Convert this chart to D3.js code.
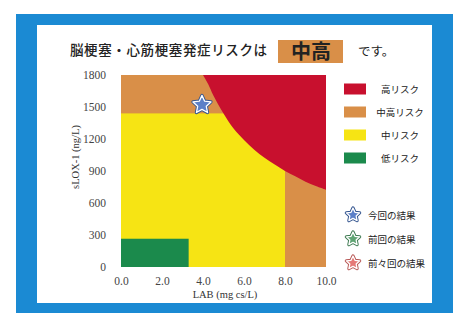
<!DOCTYPE html>
<html><head><meta charset="utf-8">
<script src="https://cdn.jsdelivr.net/npm/d3@7"></script>
<style>
html,body{margin:0;padding:0;background:#fff;}
svg{display:block;}
</style></head>
<body>
<script>
// ---- data ----
const xTicks = [0, 2, 4, 6, 8, 10];
const yTicks = [0, 300, 600, 900, 1200, 1500, 1800];
const xDomain = [0, 10];
const yDomain = [0, 1800];
const riskLabels = ["高リスク", "中高リスク", "中リスク", "低リスク"];
const riskColors = ["#c8102e", "#d98f48", "#f6e414", "#1b8a4c"];
// zone rectangles [x0, x1, y0, y1] in data units
const midHighZone = [0, 10, 0, 1800];
const midZone = [0, 8, 0, 1440];
const lowZone = [0, 3.3, 0, 265];
// high risk boundary [LAB, sLOX-1]
const highBoundary = [[4.0,1800],[4.25,1715],[4.5,1610],[5.0,1440],[5.5,1295],[6.0,1190],[6.5,1100],[7.0,1025],[7.5,960],[8.0,900],[8.5,850],[9.0,800],[9.5,760],[10,725]];
const resultLabels = ["今回の結果", "前回の結果", "前々回の結果"];
const resultColors = ["#5b80c8", "#5fa473", "#e57a78"];
const currentResult = [3.95, 1520];
const titleText = "脳梗塞・心筋梗塞発症リスクは";
const levelText = "中高";
const suffixText = "です。";
const xTitle = "LAB (mg cs/L)";
const yTitle = "sLOX-1 (ng/L)";

// ---- drawing ----
const W = 467, H = 328;
const svg = d3.select("body").append("svg").attr("width", W).attr("height", H);
const jp = "'Noto Sans CJK JP', 'Noto Sans', sans-serif";
const serif = "'Liberation Serif', 'DejaVu Serif', serif";

// frame
svg.append("rect").attr("x", 16).attr("y", 14).attr("width", 437).attr("height", 299).attr("fill", "#1b8ad3");
svg.append("rect").attr("x", 37).attr("y", 25).attr("width", 395).attr("height", 278).attr("fill", "#fff");

// title
svg.append("text").attr("x", 70).attr("y", 55).attr("font-family", jp).attr("font-size", 13.5)
  .attr("font-weight", 500).attr("fill", "#222").attr("textLength", 197).text(titleText);
svg.append("rect").attr("x", 278).attr("y", 40).attr("width", 65).attr("height", 23).attr("fill", riskColors[1]);
svg.append("text").attr("x", 311).attr("y", 59).attr("text-anchor", "middle").attr("font-family", jp)
  .attr("font-size", 20).attr("font-weight", 700).attr("fill", "#222").text(levelText);
svg.append("text").attr("x", 358).attr("y", 56).attr("font-family", jp).attr("font-size", 12.5)
  .attr("fill", "#222").text(suffixText);

const x = d3.scaleLinear().domain(xDomain).range([121, 326]);
const y = d3.scaleLinear().domain(yDomain).range([267, 75]);

const plot = svg.append("g");
svg.append("clipPath").attr("id", "clip").append("rect")
  .attr("x", x(0)).attr("y", y(1800)).attr("width", x(10) - x(0)).attr("height", y(0) - y(1800));
plot.attr("clip-path", "url(#clip)");

function zone(z, color) {
  plot.append("rect").attr("x", x(z[0])).attr("y", y(z[3]))
    .attr("width", x(z[1]) - x(z[0])).attr("height", y(z[2]) - y(z[3])).attr("fill", color);
}
zone(midHighZone, riskColors[1]);
zone(midZone, riskColors[2]);
zone(lowZone, riskColors[3]);

const line = d3.line().x(d => x(d[0])).y(d => y(d[1])).curve(d3.curveCatmullRom.alpha(0.5));
const pathD = line(highBoundary) + `L${x(10)},${y(1800)}Z`;
plot.append("path").attr("d", pathD).attr("fill", riskColors[0]);

// axes
const xAxis = svg.append("g").attr("transform", `translate(0,${y(0)})`)
  .call(d3.axisBottom(x).tickValues(xTicks).tickSize(0).tickPadding(10).tickFormat(d3.format(".1f")));
const yAxis = svg.append("g").attr("transform", `translate(${x(0)},0)`)
  .call(d3.axisLeft(y).tickValues(yTicks).tickSize(0).tickPadding(15).tickFormat(d3.format("d")));
[xAxis, yAxis].forEach(a => {
  a.select(".domain").remove();
  a.selectAll("text").attr("font-family", serif).attr("font-size", 11.5).attr("fill", "#444");
});

svg.append("text").attr("x", 225).attr("y", 298).attr("text-anchor", "middle")
  .attr("font-family", serif).attr("font-size", 10.5).attr("fill", "#333").text(xTitle);
svg.append("text").attr("transform", "translate(79,157) rotate(-90)").attr("text-anchor", "middle")
  .attr("font-family", serif).attr("font-size", 10.5).attr("fill", "#333").text(yTitle);

// star shape
function starPath(r) {
  const pts = [];
  for (let i = 0; i < 10; i++) {
    const rr = i % 2 === 0 ? r : r * 0.48;
    const a = -Math.PI / 2 + i * Math.PI / 5;
    pts.push([rr * Math.cos(a), rr * Math.sin(a)]);
  }
  return "M" + pts.map(p => p.join(",")).join("L") + "Z";
}
function drawStar(g, cx, cy, r, color, dark) {
  const s = g.append("g").attr("transform", `translate(${cx},${cy})`);
  s.append("path").attr("d", starPath(r)).attr("fill", color).attr("stroke", dark)
    .attr("stroke-width", 3.2).attr("stroke-linejoin", "round");
  s.append("path").attr("d", starPath(r)).attr("fill", color).attr("stroke", "#fff")
    .attr("stroke-width", 1.3).attr("stroke-linejoin", "round");
}
drawStar(svg, x(currentResult[0]), y(currentResult[1]), 9.5, resultColors[0], "#34558f");

// legend: risk levels
const leg = svg.append("g");
riskLabels.forEach((lab, i) => {
  const cy = 89 + i * 23;
  leg.append("rect").attr("x", 344).attr("y", cy - 5.5).attr("width", 22).attr("height", 11).attr("fill", riskColors[i]);
  leg.append("text").attr("x", 400).attr("y", cy + 3.5).attr("text-anchor", "middle")
    .attr("font-family", jp).attr("font-size", 9.5).attr("fill", "#222").text(lab);
});
const darks = ["#34558f", "#3f7a52", "#b85a58"];
resultLabels.forEach((lab, i) => {
  const cy = 215 + i * 24;
  drawStar(leg, 353, cy, 7, resultColors[i], darks[i]);
  leg.append("text").attr("x", 368).attr("y", cy + 3.5)
    .attr("font-family", jp).attr("font-size", 9.5).attr("fill", "#222").text(lab);
});
</script>
</body></html>
